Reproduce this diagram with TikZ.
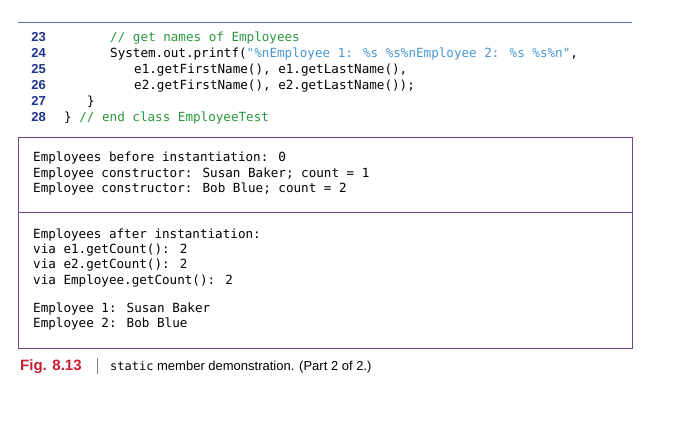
\documentclass[tikz,border=0pt]{standalone}
\usepackage{fontspec}
\setmainfont{Liberation Sans}
\newfontfamily\codefont{DejaVu Sans Mono}[Scale=1.0]
\definecolor{numblue}{RGB}{30,50,140}
\definecolor{cmtgreen}{RGB}{40,150,60}
\definecolor{strblue}{RGB}{70,150,210}
\definecolor{boxpurple}{RGB}{110,70,150}
\definecolor{rulecol}{RGB}{90,110,170}
\definecolor{figred}{RGB}{200,30,50}
\begin{document}
\begin{tikzpicture}[x=1pt,y=-1pt,
  code/.style={anchor=base west,inner sep=0,font=\codefont\fontsize{12.6}{14}\selectfont},
  lnum/.style={anchor=base east,inner sep=0,text=numblue,font=\fontsize{13}{15}\selectfont\bfseries},
  captext/.style={anchor=base west,inner sep=0,font=\fontsize{13}{15}\selectfont}]
\useasboundingbox (0,0) rectangle (693,444);
\draw[rulecol,line width=0.8] (18,22) -- (632,22);
\foreach \n/\y in {23/42,24/58,25/74,26/89,27/105,28/121}{
  \node[lnum] (n\n) at (46,\y) {\n};}
\node[code,text=cmtgreen] (c23) at (110,42) {// get names of Employees};
\node[code] (c24) at (110,58) {System.out.printf(\textcolor{strblue}{"\%nEmployee 1: \%s \%s\%nEmployee 2: \%s \%s\%n"},};
\node[code] (c25) at (134,74) {e1.getFirstName(), e1.getLastName(),};
\node[code] (c26) at (134,89) {e2.getFirstName(), e2.getLastName());};
\node[code] (c27) at (87,105) {\}};
\node[code] (c28) at (64,121) {\} \textcolor{cmtgreen}{// end class EmployeeTest}};
\draw[boxpurple,line width=0.9] (18,137) rectangle (632,348);
\draw[boxpurple,line width=0.9] (18,212) -- (632,212);
\node[code] (o1) at (33,161) {Employees before instantiation: 0};
\node[code] (o2) at (33,177) {Employee constructor: Susan Baker; count = 1};
\node[code] (o3) at (33,192) {Employee constructor: Bob Blue; count = 2};
\node[code] (o4) at (33,238) {Employees after instantiation:};
\node[code] (o5) at (33,253) {via e1.getCount(): 2};
\node[code] (o6) at (33,268) {via e2.getCount(): 2};
\node[code] (o7) at (33,284) {via Employee.getCount(): 2};
\node[code] (o8) at (33,312) {Employee 1: Susan Baker};
\node[code] (o9) at (33,327) {Employee 2: Bob Blue};
\node[captext,text=figred,font=\fontsize{15}{17}\selectfont\bfseries] (f) at (20,370) {Fig. 8.13};
\draw[gray,line width=0.7] (97,358) -- (97,374);
\node[captext] (t) at (110,370) {{\codefont\fontsize{12}{14}\selectfont static} member demonstration. (Part 2 of 2.)};
\end{tikzpicture}
\end{document}
